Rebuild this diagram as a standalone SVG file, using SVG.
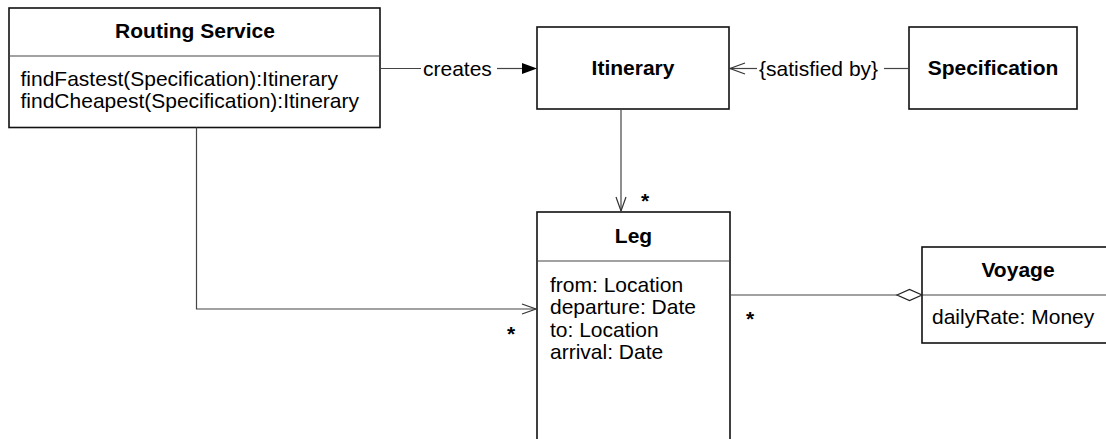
<svg xmlns="http://www.w3.org/2000/svg" width="1106" height="439" viewBox="0 0 1106 439">
  <style>
    .box { fill: #fff; stroke: #111; stroke-width: 1.6; }
    .div { stroke: #444; stroke-width: 1.2; }
    .title { font-family: "Liberation Sans", Arial, sans-serif; font-size: 21px; font-weight: bold; fill: #000; text-anchor: middle; }
    .attr { font-family: "Liberation Sans", Arial, sans-serif; font-size: 21px; fill: #000; }
    .lbl { font-family: "Liberation Sans", Arial, sans-serif; font-size: 21px; fill: #000; }
    .mult { font-family: "Liberation Sans", Arial, sans-serif; font-size: 21px; font-weight: bold; fill: #000; text-anchor: middle; }
    .conn { fill: none; stroke: #444; stroke-width: 1.2; }
    .open { fill: none; stroke: #333; stroke-width: 1.2; }
  </style>

  <!-- Routing Service class -->
  <g id="routing-service">
    <rect class="box" x="9" y="8" width="371" height="119.5"/>
    <line class="div" x1="9" y1="56" x2="380" y2="56"/>
    <text class="title" x="195" y="37.5">Routing Service</text>
    <text class="attr" x="20.5" y="86">findFastest(Specification):Itinerary</text>
    <text class="attr" x="20.5" y="108.3">findCheapest(Specification):Itinerary</text>
  </g>

  <!-- Itinerary class -->
  <g id="itinerary">
    <rect class="box" x="537" y="27" width="192" height="82"/>
    <text class="title" x="633" y="75">Itinerary</text>
  </g>

  <!-- Specification class -->
  <g id="specification">
    <rect class="box" x="909" y="27" width="168" height="82"/>
    <text class="title" x="993" y="75">Specification</text>
  </g>

  <!-- Leg class (extends past the bottom edge) -->
  <g id="leg">
    <rect class="box" x="537" y="212" width="193" height="240"/>
    <line class="div" x1="537" y1="261" x2="730" y2="261"/>
    <text class="title" x="633.5" y="243">Leg</text>
    <text class="attr" x="550" y="292">from: Location</text>
    <text class="attr" x="550" y="314.4">departure: Date</text>
    <text class="attr" x="550" y="336.8">to: Location</text>
    <text class="attr" x="550" y="359.2">arrival: Date</text>
  </g>

  <!-- Voyage class (extends past the right edge) -->
  <g id="voyage">
    <rect class="box" x="922" y="247" width="200" height="96"/>
    <line class="div" x1="922" y1="295" x2="1122" y2="295"/>
    <text class="title" x="1018" y="276.5">Voyage</text>
    <text class="attr" x="932" y="324">dailyRate: Money</text>
  </g>

  <!-- Associations -->
  <g id="connectors">
    <!-- Routing Service creates Itinerary -->
    <line class="conn" x1="380" y1="68.5" x2="421" y2="68.5"/>
    <text class="lbl" x="423" y="75.5">creates</text>
    <line class="conn" x1="497" y1="68.5" x2="523" y2="68.5"/>
    <polygon points="522,63 537,68.5 522,74" fill="#000"/>

    <!-- Specification -> Itinerary {satisfied by} -->
    <line class="conn" x1="909" y1="68.5" x2="884" y2="68.5"/>
    <text class="lbl" x="759" y="75.5">{satisfied by}</text>
    <line class="conn" x1="757" y1="68.5" x2="730" y2="68.5"/>
    <polyline class="open" points="745,63 730,68.5 745,74"/>

    <!-- Itinerary -> Leg -->
    <line class="conn" x1="621" y1="109" x2="621" y2="211"/>
    <polyline class="open" points="616,197 621,211 626,197"/>
    <text class="mult" x="645" y="207.5">*</text>

    <!-- Routing Service -> Leg -->
    <polyline class="conn" points="196.5,127.5 196.5,309 536,309"/>
    <polyline class="open" points="522,304 536,309 522,314"/>
    <text class="mult" x="511" y="341">*</text>

    <!-- Leg aggregated by Voyage -->
    <line class="conn" x1="730" y1="295" x2="897" y2="295"/>
    <polygon points="897,295 909.5,289.5 922,295 909.5,300.5" fill="#fff" stroke="#222" stroke-width="1.2"/>
    <text class="mult" x="750" y="326">*</text>
  </g>
</svg>
